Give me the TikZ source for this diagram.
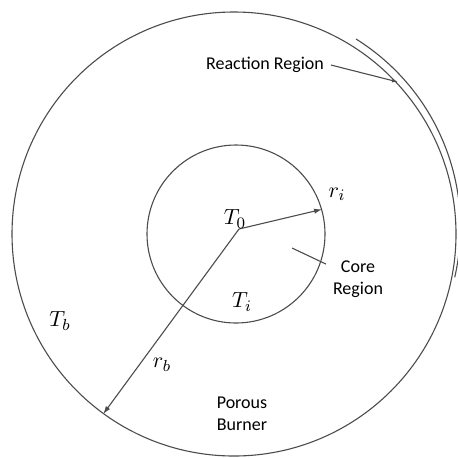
\documentclass[tikz,border=0pt]{standalone}
\usepackage{fontspec}
\setmainfont{Carlito}
\usetikzlibrary{arrows.meta,positioning}
\tikzset{
ringline/.style={draw=black!70,line width=0.55pt},
burnerring/.style={circle,ringline,inner sep=0pt},
regionlabel/.style={align=center,font=\fontsize{9}{11}\selectfont,text=black},
symlabel/.style={font=\fontsize{11}{13}\selectfont,inner sep=1pt},
radarr/.style={ringline,-{Latex[length=4pt,width=2.6pt]}}
}

\begin{document}
\begin{tikzpicture}[x=0.5pt,y=0.5pt]
\useasboundingbox (0,0) rectangle (458,457);
\node[burnerring,minimum size=222pt] (burner) at (234,223) {};
\node[burnerring,minimum size=89pt] (core) at (236,223) {};
\coordinate (rxncen) at (238.4,229.7);
\draw[ringline] ([shift={(58:111pt)}]rxncen) arc[start angle=58,end angle=-13,radius=111pt];
\coordinate (ctr) at (239,228);
\draw[radarr] (ctr) -- (core.16);
\draw[radarr] (ctr) -- (burner.234);
% labels
\node[regionlabel] (rxnlab) at (265,392) {Reaction Region};
\coordinate (rxntip) at (398,375);
\draw[radarr,-{Latex[length=3pt,width=2pt]}] (rxnlab.east) -- (rxntip);
\node[regionlabel] (corelab) at (358,178) {Core\\Region};
\coordinate (corept) at (292,209);
\draw[ringline] (corept) -- (corelab.155);
\node[regionlabel] (porlab) at (242,43) {Porous\\Burner};
\node[symlabel] (tzero) at (235,238) {$T_0$};
\node[symlabel] (rilab) at (337,263) {$r_i$};
\node[symlabel] (tilab) at (242,155) {$T_i$};
\node[symlabel] (tblab) at (60,136) {$T_b$};
\node[symlabel] (rblab) at (162,92) {$r_b$};
\end{tikzpicture}
\end{document}
